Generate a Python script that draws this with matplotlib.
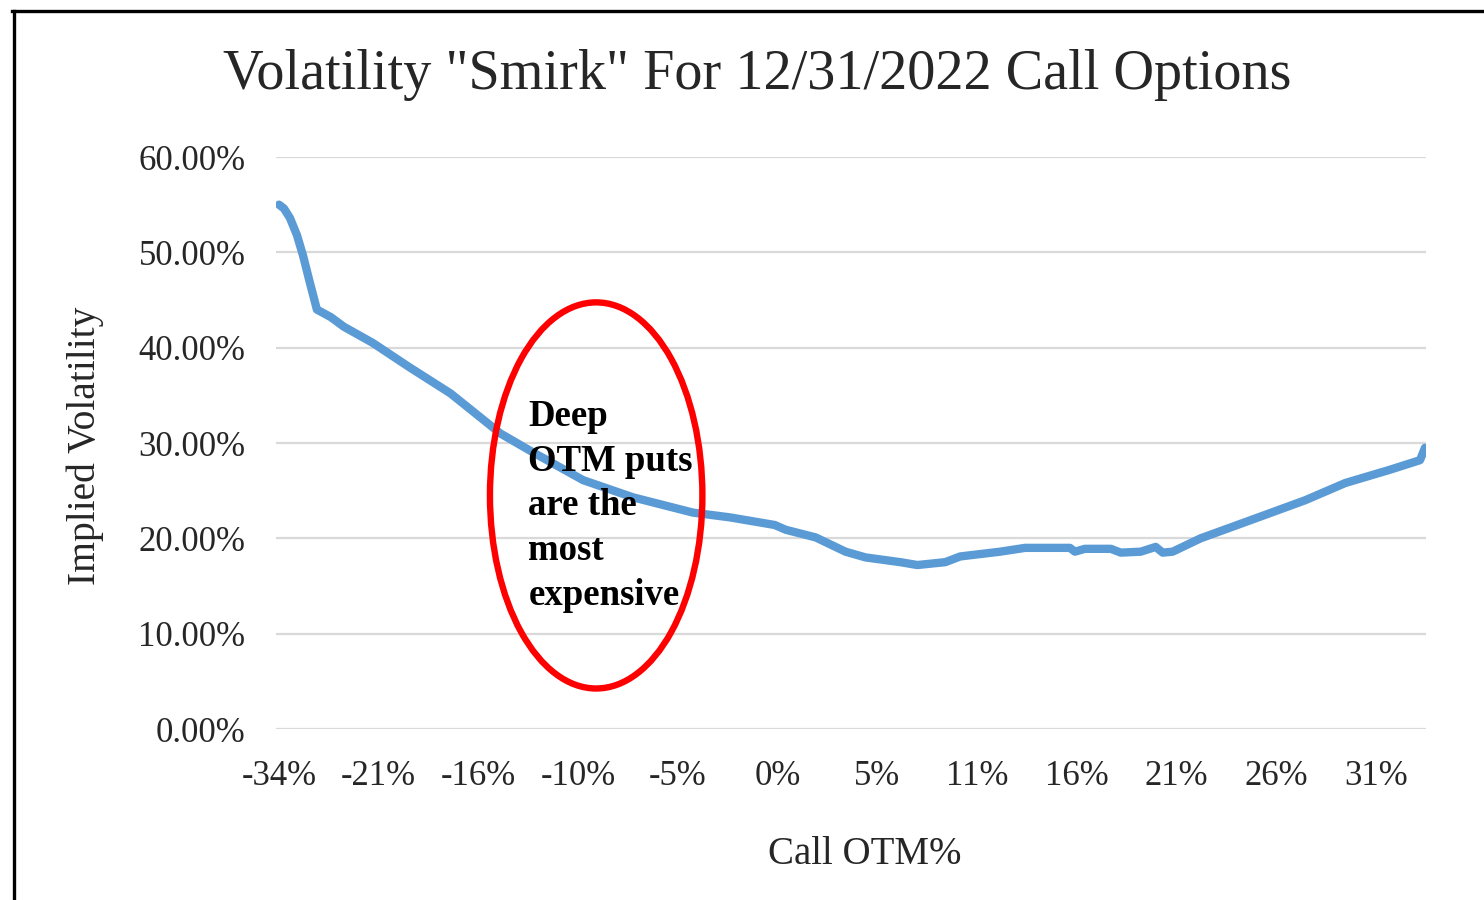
import matplotlib.pyplot as plt
from matplotlib.patches import Ellipse
from matplotlib.lines import Line2D

# Category axis labels (Excel-style, evenly spaced)
tick_labels = ['-34%', '-21%', '-16%', '-10%', '-5%', '0%', '5%', '11%', '16%', '21%', '26%', '31%']

# Curve, x in category-label steps (0 = "-34%"), implied vol in %
pos = [0.00, 0.05, 0.11, 0.18, 0.24, 0.31, 0.38, 0.52, 0.65, 0.94, 1.30, 1.72, 2.22, 2.55,
       3.05, 3.55, 4.15, 4.52, 4.97, 5.08, 5.38, 5.68, 5.88, 6.23, 6.40, 6.68, 6.83, 7.23,
       7.48, 7.93, 7.98, 8.08, 8.34, 8.44, 8.64, 8.79, 8.86, 8.96, 9.24, 9.74, 10.29, 10.69,
       11.14, 11.44, 11.49]
iv = [55.0, 54.6, 53.6, 51.8, 49.7, 46.8, 44.0, 43.2, 42.2, 40.5, 38.0, 35.2, 31.0, 29.0,
      26.1, 24.3, 22.7, 22.2, 21.4, 20.9, 20.1, 18.6, 18.0, 17.5, 17.2, 17.5, 18.1, 18.6,
      19.0, 19.0, 18.6, 18.9, 18.9, 18.5, 18.6, 19.1, 18.5, 18.6, 20.0, 21.9, 24.0, 25.8,
      27.2, 28.2, 29.5]

serif = ['Liberation Serif', 'DejaVu Serif']
plt.rcParams['font.family'] = serif

W, H = 1484, 900
fig = plt.figure(figsize=(W / 100, H / 100), dpi=100)
ax = fig.add_axes([276 / W, 1 - 729 / H, (1426 - 276) / W, (729 - 157) / H])

ax.plot(pos, iv, color='#5B9BD5', lw=6.0, solid_capstyle='round', solid_joinstyle='round', zorder=3)

ax.set_xlim(-0.03, 11.50)
ax.set_ylim(0, 60)
ax.set_yticks(range(0, 61, 10))
ax.set_yticklabels([f'{v:.2f}%' for v in range(0, 61, 10)])
ax.set_xticks(range(len(tick_labels)))
ax.set_xticklabels(tick_labels)
ax.grid(axis='y', color='#D9D9D9', lw=1.6)
ax.set_axisbelow(True)
for s in ax.spines.values():
    s.set_visible(False)
ax.tick_params(axis='y', length=0, pad=22, labelsize=25, labelcolor='#262626')
ax.tick_params(axis='x', length=0, pad=22, labelsize=25, labelcolor='#262626')

# annotation ellipse + text
ell = Ellipse((3.18, 24.5), 2.13, 40.5, fill=False, ec='#FF0000', lw=4.6, clip_on=False, zorder=4)
ax.add_patch(ell)
ax.text(2.50, 23.4, 'Deep\nOTM puts\nare the\nmost\nexpensive', fontsize=26.5, fontweight='bold',
        va='center', ha='left', linespacing=1.36, color='black', zorder=5)

fig.text(757 / W, 1 - 75 / H, 'Volatility "Smirk" For 12/31/2022 Call Options',
         fontsize=40.5, ha='center', va='center', color='#262626')
fig.text(865 / W, 1 - 854 / H, 'Call OTM%', fontsize=28, ha='center', va='center', color='#262626')
fig.text(85 / W, 1 - 446 / H, 'Implied Volatility', fontsize=28.5, rotation=90,
         ha='center', va='center', color='#262626')

# outer frame (cropped at right/bottom)
fig.add_artist(Line2D([13.5 / W, 13.5 / W], [0, 1 - 11 / H], color='black', lw=2.4))
fig.add_artist(Line2D([12.5 / W, 1], [1 - 11 / H, 1 - 11 / H], color='black', lw=2.4))

fig.savefig('out.png', dpi=100, facecolor='white')
